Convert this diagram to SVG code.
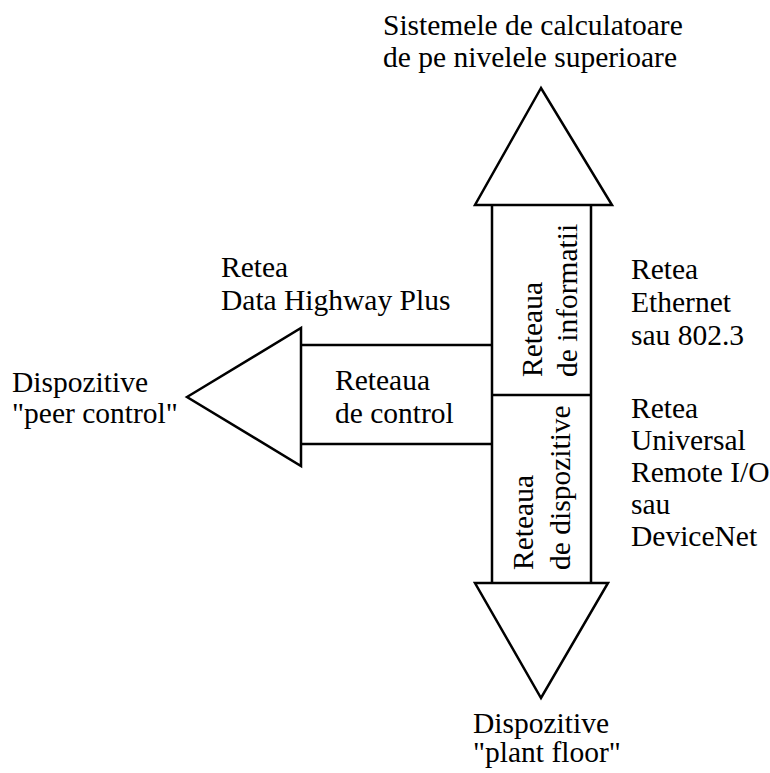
<svg xmlns="http://www.w3.org/2000/svg" width="770" height="773" viewBox="0 0 770 773">
  <style>
    .shape { fill: none; stroke: #000; stroke-width: 2.5; stroke-linejoin: miter; }
    text { font-family: 'Liberation Serif', 'Times New Roman', serif; font-size: 29.5px; fill: #000; }
  </style>
  <rect width="770" height="773" fill="#fff"/>

  <!-- connectors: arrow heads and the bars joining them -->
  <g id="connectors">
    <polygon class="shape" points="541,88 475,205 612,205"/>
    <polygon class="shape" points="475,583 608,583 541,698"/>
    <polygon class="shape" points="187,397 301,328 301,466"/>
    <line class="shape" x1="492" y1="205" x2="492" y2="583"/>
    <line class="shape" x1="591" y1="205" x2="591" y2="583"/>
    <line class="shape" x1="301" y1="345" x2="492" y2="345"/>
    <line class="shape" x1="301" y1="444" x2="492" y2="444"/>
  </g>

  <!-- information network segment -->
  <g id="info-net">
    <line class="shape" x1="492" y1="395" x2="591" y2="395"/>
    <text transform="translate(542,377) rotate(-90)">Reteaua</text>
    <text transform="translate(577,377) rotate(-90)">de informatii</text>
  </g>

  <!-- device network segment -->
  <g id="device-net">
    <text transform="translate(533,570) rotate(-90)">Reteaua</text>
    <text transform="translate(570,570) rotate(-90)">de dispozitive</text>
  </g>

  <!-- control network segment -->
  <g id="control-net">
    <text x="335" y="390">Reteaua</text>
    <text x="335" y="423">de control</text>
  </g>

  <g id="upper-systems">
    <text x="383" y="35">Sistemele de calculatoare</text>
    <text x="383" y="67">de pe nivelele superioare</text>
  </g>

  <g id="peer-devices">
    <text x="12" y="392">Dispozitive</text>
    <text x="12" y="423">"peer control"</text>
  </g>

  <g id="dh-plus">
    <text x="221" y="277">Retea</text>
    <text x="221" y="310">Data Highway Plus</text>
  </g>

  <g id="ethernet">
    <text x="631" y="279">Retea</text>
    <text x="631" y="312">Ethernet</text>
    <text x="631" y="345">sau 802.3</text>
  </g>

  <g id="remote-io">
    <text x="631" y="418">Retea</text>
    <text x="631" y="450">Universal</text>
    <text x="631" y="482">Remote I/O</text>
    <text x="631" y="514">sau</text>
    <text x="631" y="546">DeviceNet</text>
  </g>

  <g id="plant-floor">
    <text x="473" y="733">Dispozitive</text>
    <text x="473" y="762">"plant floor"</text>
  </g>
</svg>
